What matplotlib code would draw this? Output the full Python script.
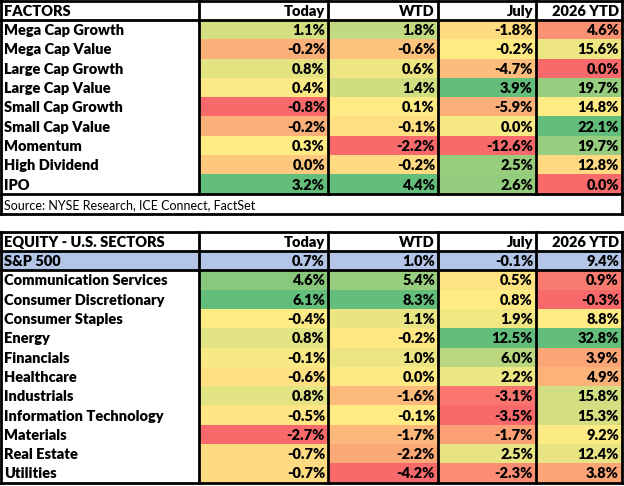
import matplotlib.pyplot as plt
from matplotlib.patches import Rectangle
from matplotlib.colors import to_rgb
import numpy as np

plt.rcParams['font.family'] = ['Lato', 'DejaVu Sans']

# ---- data ----
col_headers = ['Today', 'WTD', 'July', '2026 YTD']

factor_names = ['Mega Cap Growth', 'Mega Cap Value', 'Large Cap Growth', 'Large Cap Value',
                'Small Cap Growth', 'Small Cap Value', 'Momentum', 'High Dividend', 'IPO']
factor_today = [1.1, -0.2, 0.8, 0.4, -0.8, -0.2, 0.3, 0.0, 3.2]
factor_wtd = [1.8, -0.6, 0.6, 1.4, 0.1, -0.1, -2.2, -0.2, 4.4]
factor_july = [-1.8, -0.2, -4.7, 3.9, -5.9, 0.0, -12.6, 2.5, 2.6]
factor_ytd = [4.6, 15.6, 0.0, 19.7, 14.8, 22.1, 19.7, 12.8, 0.0]

source_text = 'Source: NYSE Research, ICE Connect, FactSet'

sp500_name = 'S&P 500'
sp500_vals = [0.7, 1.0, -0.1, 9.4]

sector_names = ['Communication Services', 'Consumer Discretionary', 'Consumer Staples', 'Energy',
                'Financials', 'Healthcare', 'Industrials', 'Information Technology',
                'Materials', 'Real Estate', 'Utilities']
sector_today = [4.6, 6.1, -0.4, 0.8, -0.1, -0.6, 0.8, -0.5, -2.7, -0.7, -0.7]
sector_wtd = [5.4, 8.3, 1.1, -0.2, 1.0, 0.0, -1.6, -0.1, -1.7, -2.2, -4.2]
sector_july = [0.5, 0.8, 1.9, 12.5, 6.0, 2.2, -3.1, -3.5, -1.7, 2.5, -2.3]
sector_ytd = [0.9, -0.3, 8.8, 32.8, 3.9, 4.9, 15.8, 15.3, 9.2, 12.4, 3.8]

# ---- style ----
RED, YEL, GRN = to_rgb('#F8696B'), to_rgb('#FFEB84'), to_rgb('#63BE7B')
BLUE = '#B4C6E7'
col_x = [1, 199, 328, 438, 536, 622]
row_h = 19.3
fs = 10.5
fw = 'heavy'
lw = 2


def scale_colors(vals):
    # excel style 3-colour scale: min red, median yellow, max green
    v = np.array(vals, dtype=float)
    lo, mid, hi = v.min(), np.percentile(v, 50), v.max()
    out = []
    for x in v:
        if x <= mid:
            t = 0 if mid == lo else (x - lo) / (mid - lo)
            c = [RED[i] + (YEL[i] - RED[i]) * t for i in range(3)]
        else:
            t = 0 if hi == mid else (x - mid) / (hi - mid)
            c = [YEL[i] + (GRN[i] - YEL[i]) * t for i in range(3)]
        out.append(c)
    return out


fig = plt.figure(figsize=(6.24, 4.86), dpi=100)
ax = fig.add_axes([0, 0, 1, 1])
ax.set_xlim(0, 624)
ax.set_ylim(486, 0)
ax.axis('off')


def hline(y, x0=col_x[0], x1=col_x[-1]):
    ax.plot([x0, x1], [y, y], color='black', lw=lw, solid_capstyle='projecting', zorder=5)


def vline(x, y0, y1):
    ax.plot([x, x], [y0, y1], color='black', lw=lw, solid_capstyle='projecting', zorder=5)


def cell_text(x, y, s, ha):
    ax.text(x, y, s, fontsize=fs, fontweight=fw, va='center', ha=ha)


def draw_table(top, title, names, cols, extra=None, source=None):
    y = top
    # header
    cell_text(col_x[0] + 3, y + 10.5, title, 'left')
    for j, h in enumerate(col_headers):
        cell_text(col_x[j + 2] - 3, y + 10.5, h, 'right')
    y_head = y + 19
    hline(y_head)
    y = y_head
    if extra is not None:
        nm, vals = extra
        ax.add_patch(Rectangle((col_x[0], y), col_x[-1] - col_x[0], row_h, color=BLUE, lw=0))
        cell_text(col_x[0] + 3, y + row_h / 2 + 1, nm, 'left')
        for j, v in enumerate(vals):
            cell_text(col_x[j + 2] - 3, y + row_h / 2 + 1, f'{v:.1f}%', 'right')
        y += row_h
        hline(y)
    colors = [scale_colors(c) for c in cols]
    for i, nm in enumerate(names):
        cell_text(col_x[0] + 3, y + row_h / 2 + 1, nm, 'left')
        for j, c in enumerate(cols):
            ax.add_patch(Rectangle((col_x[j + 1], y), col_x[j + 2] - col_x[j + 1], row_h,
                                   color=colors[j][i], lw=0))
            cell_text(col_x[j + 2] - 3, y + row_h / 2 + 1, f'{c[i]:.1f}%', 'right')
        y += row_h
    y_body = y
    for x in col_x[1:-1]:
        vline(x, top, y_body)
    if source is not None:
        hline(y_body)
        ax.text(col_x[0] + 3, y_body + 11, source, fontsize=9, va='center', ha='left')
        y = y_body + 20.5
    hline(top)
    hline(y)
    vline(col_x[0], top, y)
    vline(col_x[-1], top, y)


draw_table(1, 'FACTORS', factor_names, [factor_today, factor_wtd, factor_july, factor_ytd],
           source=source_text)
draw_table(232, 'EQUITY - U.S. SECTORS', sector_names,
           [sector_today, sector_wtd, sector_july, sector_ytd], extra=(sp500_name, sp500_vals))

fig.savefig('out.png', dpi=100)
